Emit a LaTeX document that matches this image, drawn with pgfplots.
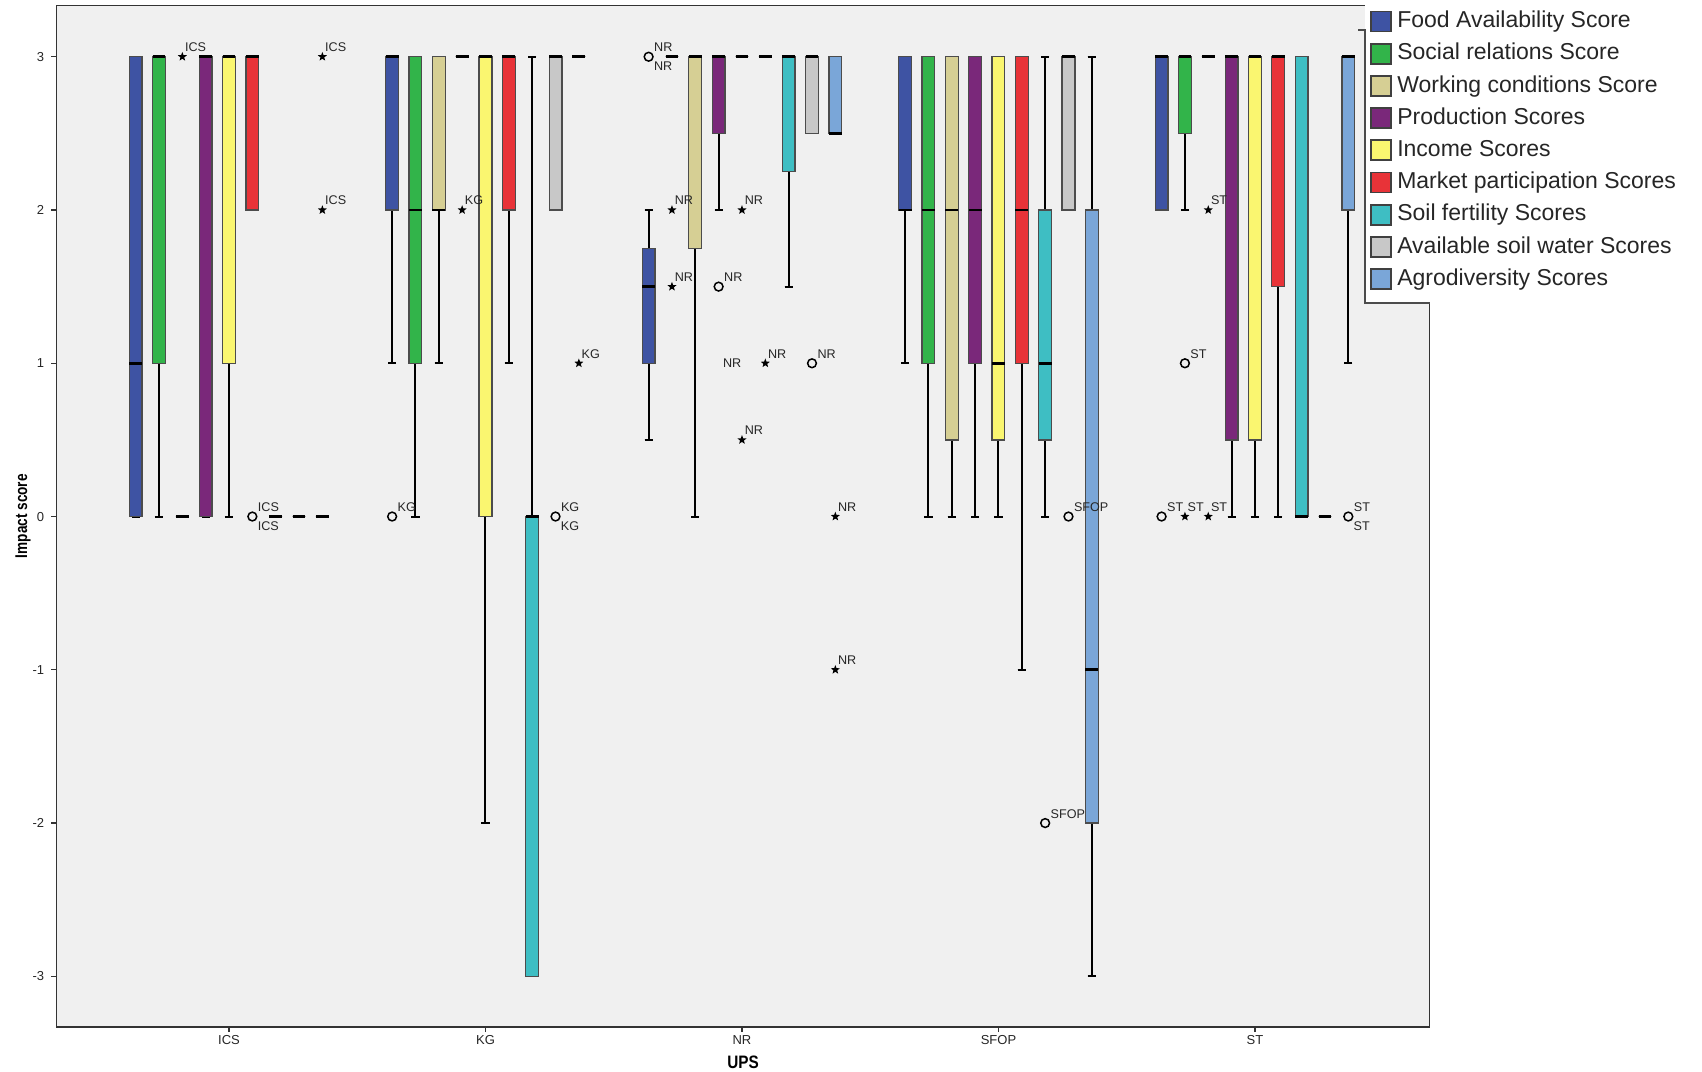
\documentclass[border=0pt]{standalone}
\usepackage{fontspec}
\setmainfont{Liberation Sans}
\usepackage{graphicx}
\usepackage{pgfplots}
\usepackage{pgfplotstable}
\pgfplotsset{compat=1.18}
\usepgfplotslibrary{statistics}

% series colours
\definecolor{ser0}{HTML}{3E53A3}% Food Availability
\definecolor{ser1}{HTML}{32B44A}% Social relations
\definecolor{ser2}{HTML}{D6CF94}% Working conditions
\definecolor{ser3}{HTML}{7A287A}% Production
\definecolor{ser4}{HTML}{FAF670}% Income
\definecolor{ser5}{HTML}{E83338}% Market participation
\definecolor{ser6}{HTML}{3EBEC3}% Soil fertility
\definecolor{ser7}{HTML}{C8C8C8}% Available soil water
\definecolor{ser8}{HTML}{7AA6D8}% Agrodiversity

% filled five-pointed star for extreme values
\pgfdeclareplotmark{fstar}{%
  \pgfpathmoveto{\pgfpointpolar{90}{\pgfplotmarksize}}%
  \pgfpathlineto{\pgfpointpolar{126}{0.42\pgfplotmarksize}}%
  \pgfpathlineto{\pgfpointpolar{162}{\pgfplotmarksize}}%
  \pgfpathlineto{\pgfpointpolar{198}{0.42\pgfplotmarksize}}%
  \pgfpathlineto{\pgfpointpolar{234}{\pgfplotmarksize}}%
  \pgfpathlineto{\pgfpointpolar{270}{0.42\pgfplotmarksize}}%
  \pgfpathlineto{\pgfpointpolar{306}{\pgfplotmarksize}}%
  \pgfpathlineto{\pgfpointpolar{342}{0.42\pgfplotmarksize}}%
  \pgfpathlineto{\pgfpointpolar{18}{\pgfplotmarksize}}%
  \pgfpathlineto{\pgfpointpolar{54}{0.42\pgfplotmarksize}}%
  \pgfpathclose
  \pgfusepathqfill
}

\pgfplotsset{
  legswatch/.style={legend image code/.code={%
    \draw[##1, draw=black!75, line width=0.9pt] (0pt,-5pt) rectangle (10pt,5pt);}},
}

% g = UPS group (ICS, KG, NR, SFOP, ST), k = score (0..8)
\pgfplotstableread{
g k lw lq med uq uw
0 0 0 0 1 3 3
0 1 0 1 3 3 3
0 2 0 0 0 0 0
0 3 0 0 3 3 3
0 4 0 1 3 3 3
0 5 2 2 3 3 3
0 6 0 0 0 0 0
0 7 0 0 0 0 0
0 8 0 0 0 0 0
1 0 1 2 3 3 3
1 1 0 1 2 3 3
1 2 1 2 2 3 3
1 3 3 3 3 3 3
1 4 -2 0 3 3 3
1 5 1 2 3 3 3
1 6 -3 -3 0 0 3
1 7 2 2 3 3 3
1 8 3 3 3 3 3
2 0 0.5 1 1.5 1.75 2
2 1 3 3 3 3 3
2 2 0 1.75 3 3 3
2 3 2 2.5 3 3 3
2 4 3 3 3 3 3
2 5 3 3 3 3 3
2 6 1.5 2.25 3 3 3
2 7 2.5 2.5 3 3 3
2 8 2.5 2.5 2.5 3 3
3 0 1 2 2 3 3
3 1 0 1 2 3 3
3 2 0 0.5 2 3 3
3 3 0 1 2 3 3
3 4 0 0.5 1 3 3
3 5 -1 1 2 3 3
3 6 0 0.5 1 2 3
3 7 2 2 3 3 3
3 8 -3 -2 -1 2 3
4 0 2 2 3 3 3
4 1 2 2.5 3 3 3
4 2 3 3 3 3 3
4 3 0 0.5 3 3 3
4 4 0 0.5 3 3 3
4 5 0 1.5 3 3 3
4 6 0 0 0 3 3
4 7 0 0 0 0 0
4 8 1 2 3 3 3
}\boxdata

% extreme values (stars)
\pgfplotstableread{
g k y lab
0 2 3 ICS
0 8 3 ICS
0 8 2 ICS
1 3 2 KG
1 8 1 KG
2 1 2 NR
2 1 1.5 NR
2 4 2 NR
2 4 0.5 NR
2 5 1 NR
2 8 0 NR
2 8 -1 NR
4 1 0 ST
4 2 2 ST
4 2 0 ST
}\stardata

% outliers (circles)
\pgfplotstableread{
g k y lab
0 5 0 ICS
1 0 0 KG
1 7 0 KG
2 0 3 NR
2 3 1.5 NR
2 7 1 NR
3 6 -2 SFOP
3 7 0 SFOP
4 0 0 ST
4 1 1 ST
4 8 0 ST
}\circdata

% second case label of coinciding outliers
\pgfplotstableread{
g k y lab
0 5 0 ICS
1 7 0 KG
2 0 3 NR
4 8 0 ST
}\lowlabdata

\begin{document}
\begin{tikzpicture}
\begin{axis}[
  at={(28.2pt,22.05pt)}, anchor=south west,
  scale only axis, width=686.6pt, height=510.75pt,
  xmin=-0.673, xmax=4.681, ymin=-3.33, ymax=3.335,
  clip=false,
  xtick={0,1,2,3,4}, xticklabels={ICS,KG,NR,SFOP,ST},
  ytick={-3,-2,-1,0,1,2,3},
  tick align=outside, xtick pos=bottom, ytick pos=left,
  major tick length=2.6pt,
  tick style={black!80, line width=0.6pt},
  axis line style={black!80, line width=0.7pt},
  axis background/.style={fill=black!6},
  /pgf/number format/assume math mode=true,
  ticklabel style={font=\fontsize{6.5}{7}\selectfont, text=black!85},
  xticklabel style={yshift=2pt},
  xlabel={\scalebox{0.85}[1]{\bfseries UPS}},
  ylabel={\scalebox{0.8}[1]{\bfseries Impact score}},
  every axis x label/.style={at={(axis description cs:0.5,-0.0343)}, anchor=center, font=\fontsize{9}{10}\selectfont},
  every axis y label/.style={at={(axis description cs:-0.0243,0.5)}, anchor=center, rotate=90, font=\fontsize{8.5}{10}\selectfont},
  boxplot/draw direction=y,
  boxplot/box extend=0.05,
  boxplot/whisker extend=0.032,
  boxplot/every box/.style={draw=black!70, line width=0.6pt},
  boxplot/every whisker/.style={black, line width=1pt},
  boxplot/every median/.style={black, line width=1.3pt},
  legend style={
    at={(0.953,1.0053)}, anchor=north west,
    draw=none, fill=white,
    font=\fontsize{11.5}{13}\selectfont, text=black!85,
    inner xsep=2.5pt, inner ysep=5.1pt,
    row sep=5.1pt, column sep=2.5pt,
    nodes={inner sep=0pt, text height=8.6pt, text depth=2.4pt},
  },
  legend cell align=left,
]
\addlegendimage{legswatch, fill=ser0}\addlegendentry{Food Availability Score}
\addlegendimage{legswatch, fill=ser1}\addlegendentry{Social relations Score}
\addlegendimage{legswatch, fill=ser2}\addlegendentry{Working conditions Score}
\addlegendimage{legswatch, fill=ser3}\addlegendentry{Production Scores}
\addlegendimage{legswatch, fill=ser4}\addlegendentry{Income Scores}
\addlegendimage{legswatch, fill=ser5}\addlegendentry{Market participation Scores}
\addlegendimage{legswatch, fill=ser6}\addlegendentry{Soil fertility Scores}
\addlegendimage{legswatch, fill=ser7}\addlegendentry{Available soil water Scores}
\addlegendimage{legswatch, fill=ser8}\addlegendentry{Agrodiversity Scores}

% one box per (group, score) row of the table
\pgfplotsinvokeforeach{0,...,44}{
  \pgfmathtruncatemacro\grp{floor(#1/9)}
  \pgfmathtruncatemacro\idx{mod(#1,9)}
  \pgfmathsetmacro\pos{\grp+(\idx-4)*0.091}
  \pgfplotstablegetelem{#1}{lw}\of\boxdata \let\vlw\pgfplotsretval
  \pgfplotstablegetelem{#1}{lq}\of\boxdata \let\vlq\pgfplotsretval
  \pgfplotstablegetelem{#1}{med}\of\boxdata \let\vmed\pgfplotsretval
  \pgfplotstablegetelem{#1}{uq}\of\boxdata \let\vuq\pgfplotsretval
  \pgfplotstablegetelem{#1}{uw}\of\boxdata \let\vuw\pgfplotsretval
  \edef\doplot{\noexpand\addplot[forget plot, fill=ser\idx, draw=black!70,
    boxplot prepared={draw position=\pos, lower whisker=\vlw,
      lower quartile=\vlq, median=\vmed, upper quartile=\vuq,
      upper whisker=\vuw}] coordinates {};}
  \doplot
}

% white panel behind the legend
\fill[white] (rel axis cs:0.953,0.7087) rectangle (rel axis cs:1.002,1.0053);

\addplot[forget plot, only marks, mark=fstar, mark size=2.4pt, black,
  nodes near coords, point meta=explicit symbolic,
  every node near coord/.append style={anchor=base west, xshift=1.2pt, yshift=2.6pt,
    font=\fontsize{6.3}{7}\selectfont, text=black!85, inner sep=0pt}]
  table[x expr=\thisrow{g}+(\thisrow{k}-4)*0.091, y=y, meta=lab] {\stardata};

\addplot[forget plot, only marks, mark=o, mark size=2.2pt, black, line width=0.75pt,
  nodes near coords, point meta=explicit symbolic,
  every node near coord/.append style={anchor=base west, xshift=2.4pt, yshift=2.4pt,
    font=\fontsize{6.3}{7}\selectfont, text=black!85, inner sep=0pt}]
  table[x expr=\thisrow{g}+(\thisrow{k}-4)*0.091, y=y, meta=lab] {\circdata};

\addplot[forget plot, only marks, mark=none, draw=none,
  nodes near coords, point meta=explicit symbolic,
  every node near coord/.append style={anchor=base west, xshift=2.5pt, yshift=-7pt,
    font=\fontsize{6.3}{7}\selectfont, text=black!85, inner sep=0pt}]
  table[x expr=\thisrow{g}+(\thisrow{k}-4)*0.091, y=y, meta=lab] {\lowlabdata};

\node[font=\fontsize{6.3}{7}\selectfont, text=black!85, inner sep=0pt] at (axis cs:1.962,1) {NR};
\end{axis}
% frame edge of the legend panel
\draw[black!70, line width=0.6pt] (679pt,520.5pt) -- (682.5pt,520.5pt) -- (682.5pt,384pt) -- (715pt,384pt);
\pgfresetboundingbox
\useasboundingbox (0,0) rectangle (851pt,535.5pt);
\end{tikzpicture}
\end{document}
